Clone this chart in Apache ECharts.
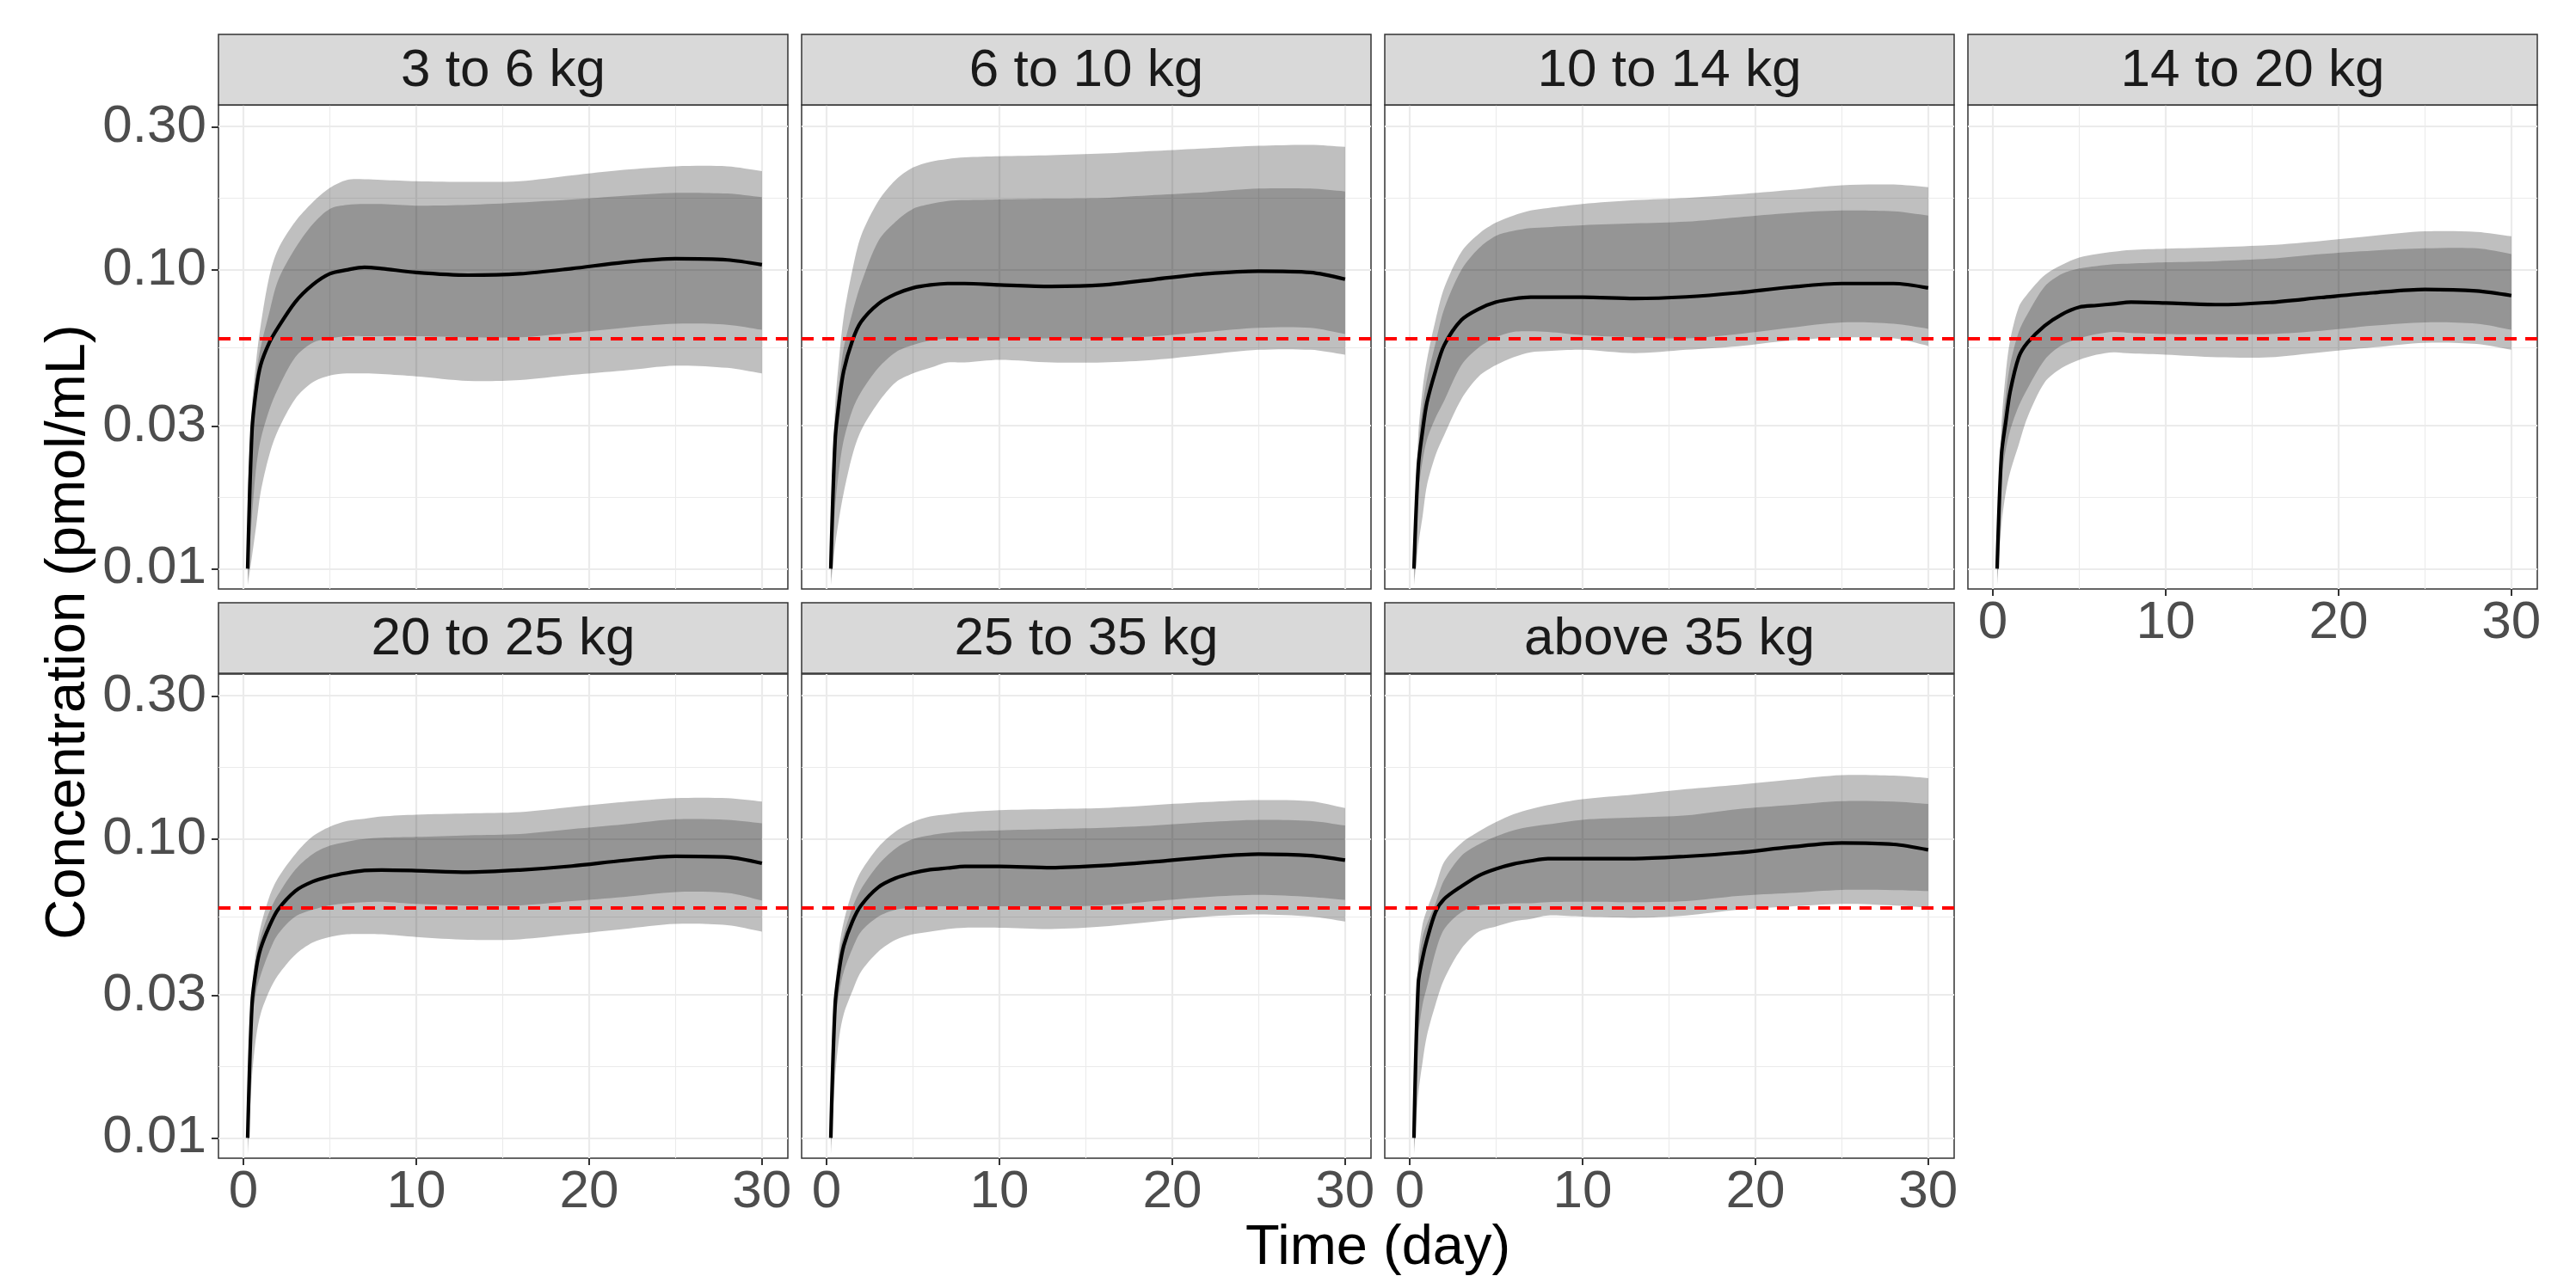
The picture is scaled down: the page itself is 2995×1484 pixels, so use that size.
<!DOCTYPE html>
<html>
<head>
<meta charset="utf-8">
<script src="https://cdn.jsdelivr.net/npm/echarts@6/dist/echarts.min.js"></script>
<style>
html, body { margin: 0; padding: 0; background: #fff; }
#chart { width: 2995px; height: 1484px; }
</style>
</head>
<body>
<div id="chart"></div>
<script>
// facet labels and shared time grid (day)
var panelNames = ['3 to 6 kg', '6 to 10 kg', '10 to 14 kg', '14 to 20 kg', '20 to 25 kg', '25 to 35 kg', 'above 35 kg']
var days = [0.25, 0.5, 0.75, 1, 1.5, 2, 3, 4, 5, 6, 7, 8, 10, 13, 16, 19, 22, 25, 28, 30]

var xTicks = [0, 10, 20, 30]
var xMinor = [5, 15, 25]
var yTicks = [0.01, 0.03, 0.1, 0.3]
var yTickLabels = ['0.01', '0.03', '0.10', '0.30']
var threshold = 0.059

// 3 to 6 kg
var p1_med  = [0.010, 0.029, 0.040, 0.048, 0.057, 0.064, 0.078, 0.089, 0.097, 0.100, 0.102, 0.101, 0.098, 0.096, 0.097, 0.101, 0.106, 0.109, 0.108, 0.104]
var p1_hi90 = [0.018, 0.035, 0.050, 0.065, 0.095, 0.117, 0.145, 0.168, 0.188, 0.200, 0.201, 0.200, 0.198, 0.197, 0.198, 0.207, 0.216, 0.222, 0.222, 0.214]
var p1_hi50 = [0.012, 0.032, 0.045, 0.055, 0.072, 0.092, 0.118, 0.142, 0.160, 0.165, 0.166, 0.166, 0.164, 0.165, 0.168, 0.172, 0.177, 0.181, 0.180, 0.175]
var p1_lo50 = [0.0092, 0.015, 0.022, 0.027, 0.034, 0.040, 0.051, 0.057, 0.059, 0.060, 0.060, 0.060, 0.060, 0.0595, 0.0595, 0.0615, 0.064, 0.066, 0.0655, 0.063]
var p1_lo90 = [0.0088, 0.011, 0.014, 0.018, 0.024, 0.029, 0.037, 0.042, 0.0443, 0.045, 0.045, 0.0448, 0.044, 0.0425, 0.0428, 0.0445, 0.046, 0.0478, 0.047, 0.045]

// 6 to 10 kg
var p2_med  = [0.010, 0.027, 0.037, 0.046, 0.058, 0.067, 0.077, 0.083, 0.087, 0.089, 0.090, 0.090, 0.089, 0.088, 0.089, 0.093, 0.097, 0.099, 0.098, 0.093]
var p2_hi90 = [0.015, 0.035, 0.052, 0.070, 0.100, 0.130, 0.170, 0.200, 0.220, 0.230, 0.235, 0.238, 0.240, 0.242, 0.245, 0.250, 0.255, 0.260, 0.262, 0.258]
var p2_hi50 = [0.012, 0.031, 0.043, 0.055, 0.072, 0.090, 0.125, 0.145, 0.160, 0.166, 0.170, 0.171, 0.172, 0.173, 0.174, 0.178, 0.182, 0.187, 0.187, 0.183]
var p2_lo50 = [0.0092, 0.016, 0.022, 0.027, 0.034, 0.039, 0.047, 0.053, 0.056, 0.058, 0.059, 0.059, 0.059, 0.059, 0.059, 0.060, 0.062, 0.064, 0.064, 0.061]
var p2_lo90 = [0.0088, 0.012, 0.015, 0.018, 0.024, 0.029, 0.036, 0.042, 0.045, 0.047, 0.049, 0.049, 0.050, 0.049, 0.049, 0.050, 0.052, 0.054, 0.054, 0.052]

// 10 to 14 kg
var p3_med  = [0.010, 0.022, 0.029, 0.036, 0.046, 0.056, 0.068, 0.074, 0.078, 0.080, 0.081, 0.081, 0.081, 0.0802, 0.0812, 0.0838, 0.0875, 0.090, 0.090, 0.087]
var p3_hi90 = [0.012, 0.028, 0.040, 0.050, 0.068, 0.087, 0.115, 0.132, 0.144, 0.152, 0.158, 0.161, 0.166, 0.171, 0.174, 0.179, 0.185, 0.192, 0.193, 0.189]
var p3_hi50 = [0.011, 0.025, 0.035, 0.043, 0.057, 0.074, 0.100, 0.118, 0.130, 0.135, 0.138, 0.139, 0.141, 0.143, 0.145, 0.150, 0.155, 0.158, 0.157, 0.152]
var p3_lo50 = [0.0092, 0.018, 0.023, 0.027, 0.032, 0.0365, 0.048, 0.055, 0.0595, 0.062, 0.0623, 0.062, 0.0605, 0.0595, 0.059, 0.061, 0.064, 0.0667, 0.066, 0.0635]
var p3_lo90 = [0.0088, 0.012, 0.015, 0.019, 0.024, 0.028, 0.037, 0.044, 0.048, 0.051, 0.053, 0.0535, 0.054, 0.0526, 0.054, 0.0555, 0.058, 0.0594, 0.059, 0.0557]

// 14 to 20 kg
var p4_med  = [0.010, 0.024, 0.031, 0.039, 0.051, 0.057, 0.065, 0.071, 0.075, 0.076, 0.077, 0.078, 0.0775, 0.0765, 0.0778, 0.0808, 0.0838, 0.086, 0.085, 0.082]
var p4_hi90 = [0.012, 0.030, 0.045, 0.058, 0.075, 0.083, 0.096, 0.104, 0.110, 0.113, 0.115, 0.1165, 0.1176, 0.119, 0.121, 0.125, 0.130, 0.1345, 0.134, 0.1295]
var p4_hi50 = [0.011, 0.027, 0.038, 0.048, 0.062, 0.071, 0.088, 0.097, 0.101, 0.103, 0.1045, 0.105, 0.106, 0.107, 0.109, 0.113, 0.116, 0.118, 0.118, 0.113]
var p4_lo50 = [0.0092, 0.020, 0.025, 0.029, 0.035, 0.040, 0.050, 0.056, 0.059, 0.061, 0.062, 0.0615, 0.061, 0.0609, 0.061, 0.0625, 0.065, 0.0667, 0.066, 0.063]
var p4_lo90 = [0.0088, 0.014, 0.018, 0.021, 0.026, 0.032, 0.042, 0.047, 0.050, 0.052, 0.053, 0.0525, 0.052, 0.051, 0.051, 0.053, 0.055, 0.057, 0.0565, 0.054]

// 20 to 25 kg
var p5_med  = [0.010, 0.028, 0.037, 0.043, 0.051, 0.058, 0.067, 0.072, 0.075, 0.077, 0.0785, 0.0788, 0.0784, 0.0775, 0.0788, 0.0812, 0.0848, 0.0876, 0.087, 0.083]
var p5_hi90 = [0.012, 0.031, 0.043, 0.051, 0.064, 0.074, 0.089, 0.102, 0.110, 0.115, 0.117, 0.119, 0.1206, 0.1218, 0.123, 0.128, 0.133, 0.137, 0.137, 0.1335]
var p5_hi50 = [0.011, 0.029, 0.040, 0.047, 0.057, 0.065, 0.079, 0.089, 0.095, 0.098, 0.100, 0.101, 0.1017, 0.103, 0.104, 0.108, 0.112, 0.1165, 0.116, 0.113]
var p5_lo50 = [0.0092, 0.024, 0.031, 0.035, 0.042, 0.048, 0.055, 0.058, 0.060, 0.061, 0.0615, 0.0617, 0.0607, 0.060, 0.060, 0.062, 0.064, 0.0665, 0.066, 0.0623]
var p5_lo90 = [0.0088, 0.016, 0.022, 0.026, 0.031, 0.035, 0.041, 0.045, 0.047, 0.048, 0.0481, 0.048, 0.047, 0.046, 0.0462, 0.048, 0.050, 0.052, 0.0515, 0.049]

// 25 to 35 kg
var p6_med  = [0.010, 0.028, 0.037, 0.044, 0.053, 0.060, 0.069, 0.074, 0.077, 0.079, 0.080, 0.081, 0.081, 0.0802, 0.0815, 0.084, 0.087, 0.089, 0.088, 0.085]
var p6_hi90 = [0.012, 0.031, 0.044, 0.053, 0.067, 0.078, 0.094, 0.106, 0.114, 0.119, 0.121, 0.123, 0.125, 0.126, 0.127, 0.130, 0.133, 0.135, 0.134, 0.127]
var p6_hi50 = [0.011, 0.029, 0.041, 0.048, 0.059, 0.068, 0.082, 0.093, 0.100, 0.103, 0.105, 0.106, 0.107, 0.108, 0.109, 0.111, 0.114, 0.116, 0.115, 0.111]
var p6_lo50 = [0.0092, 0.024, 0.031, 0.036, 0.043, 0.049, 0.055, 0.058, 0.059, 0.0595, 0.0596, 0.0596, 0.0596, 0.0596, 0.060, 0.062, 0.064, 0.065, 0.064, 0.0626]
var p6_lo90 = [0.0088, 0.016, 0.022, 0.026, 0.031, 0.036, 0.042, 0.046, 0.048, 0.049, 0.050, 0.0505, 0.0505, 0.050, 0.051, 0.053, 0.055, 0.0559, 0.055, 0.053]

// above 35 kg
var p7_med  = [0.010, 0.033, 0.040, 0.046, 0.057, 0.063, 0.0695, 0.0755, 0.0795, 0.0825, 0.0845, 0.086, 0.086, 0.086, 0.0875, 0.090, 0.094, 0.097, 0.096, 0.092]
var p7_hi90 = [0.012, 0.040, 0.052, 0.058, 0.0695, 0.084, 0.097, 0.106, 0.114, 0.121, 0.126, 0.130, 0.136, 0.141, 0.147, 0.152, 0.158, 0.1637, 0.163, 0.160]
var p7_hi50 = [0.011, 0.037, 0.047, 0.052, 0.061, 0.073, 0.088, 0.096, 0.102, 0.107, 0.110, 0.112, 0.116, 0.118, 0.120, 0.126, 0.130, 0.134, 0.1335, 0.131]
var p7_lo50 = [0.0092, 0.022, 0.028, 0.032, 0.042, 0.050, 0.057, 0.060, 0.0605, 0.061, 0.061, 0.0615, 0.0617, 0.0615, 0.062, 0.0645, 0.066, 0.0676, 0.0675, 0.067]
var p7_lo90 = [0.0088, 0.014, 0.018, 0.022, 0.028, 0.034, 0.043, 0.049, 0.051, 0.053, 0.054, 0.0555, 0.055, 0.0545, 0.0555, 0.058, 0.0595, 0.0607, 0.060, 0.059]

var panels = [
	[p1_med, p1_lo90, p1_hi90, p1_lo50, p1_hi50],
	[p2_med, p2_lo90, p2_hi90, p2_lo50, p2_hi50],
	[p3_med, p3_lo90, p3_hi90, p3_lo50, p3_hi50],
	[p4_med, p4_lo90, p4_hi90, p4_lo50, p4_hi50],
	[p5_med, p5_lo90, p5_hi90, p5_lo50, p5_hi50],
	[p6_med, p6_lo90, p6_hi90, p6_lo50, p6_hi50],
	[p7_med, p7_lo90, p7_hi90, p7_lo50, p7_hi50]
]

// layout (px)
var FONT = '"Liberation Sans", Arial, Helvetica, sans-serif'
var colLeft = [254, 932, 1610, 2288]
var stripTop = [40, 701]
var plotTop = [122, 784]
var panelW = 662, plotH = 563, stripH = 82
var smoothness = 0.3

// y axis is drawn in log10 space
var lg = function (v) { return Math.log(v) / Math.LN10 }
var yMin = -2.068, yMax = -0.448

// ribbon between two quantile curves, one polygon per ribbon, through the grid's own coords
function ribbonItem(color) {
	return function (params, api) {
		if (params.dataIndexInside !== 0) return null
		var n = days.length, top = [], bot = []
		for (var k = 0; k < n; k++) {
			top.push(api.coord([api.value(0, k), api.value(2, k)]))
			bot.push(api.coord([api.value(0, k), api.value(1, k)]))
		}
		// repeat the end vertices so the smoothing keeps square ends
		var pts = [top[0]].concat(top, [top[n - 1], bot[n - 1]], bot.slice().reverse(), [bot[0]])
		return {
			type: 'polygon',
			shape: { points: pts, smooth: smoothness },
			style: { fill: color, stroke: null }
		}
	}
}

var grids = [], xAxes = [], yAxes = [], series = [], graphics = []

panels.forEach(function (p, i) {
	var row = i < 4 ? 0 : 1
	var col = i < 4 ? i : i - 4
	var showX = (i >= 3)
	var showY = (col === 0)
	var left = colLeft[col]

	grids.push({
		left: left, top: plotTop[row], width: panelW, height: plotH,
		show: true, backgroundColor: '#fff', borderColor: '#333333', borderWidth: 1.5,
		containLabel: false, outerBoundsMode: 'none'
	})
	xAxes.push({
		gridIndex: i, type: 'value', min: -1.44, max: 31.5,
		axisLine: { show: false, onZero: false }, splitLine: { show: false },
		axisTick: { show: showX, customValues: xTicks, length: 8, lineStyle: { color: '#333333', width: 2 } },
		axisLabel: { show: showX, customValues: xTicks, fontSize: 62, color: '#4D4D4D', margin: 9, fontFamily: FONT }
	})
	yAxes.push({
		gridIndex: i, type: 'value', min: yMin, max: yMax,
		axisLine: { show: false, onZero: false }, splitLine: { show: false },
		axisTick: { show: showY, customValues: yTicks.map(lg), length: 8, lineStyle: { color: '#333333', width: 2 } },
		axisLabel: {
			show: showY, customValues: yTicks.map(lg), fontSize: 62, color: '#4D4D4D', margin: 14, fontFamily: FONT,
			formatter: function (v) {
				var k = 0, best = 1e9
				yTicks.forEach(function (t, j) { var d = Math.abs(lg(t) - v); if (d < best) { best = d; k = j } })
				return yTickLabels[k]
			}
		}
	})

	// background grid lines
	var gl = []
	xTicks.forEach(function (t) { gl.push({ xAxis: t, lineStyle: { color: '#EBEBEB', width: 2.2, type: 'solid' } }) })
	xMinor.forEach(function (t) { gl.push({ xAxis: t, lineStyle: { color: '#EBEBEB', width: 1.1, type: 'solid' } }) })
	yTicks.forEach(function (t) { gl.push({ yAxis: lg(t), lineStyle: { color: '#EBEBEB', width: 2.2, type: 'solid' } }) })
	for (var j = 0; j < yTicks.length - 1; j++) {
		gl.push({ yAxis: (lg(yTicks[j]) + lg(yTicks[j + 1])) / 2, lineStyle: { color: '#EBEBEB', width: 1.1, type: 'solid' } })
	}
	series.push({
		type: 'line', xAxisIndex: i, yAxisIndex: i, data: [], silent: true, z: 1,
		markLine: { silent: true, z: 1, symbol: ['none', 'none'], label: { show: false }, emphasis: { disabled: true }, data: gl }
	})

	var med = p[0], lo90 = p[1], hi90 = p[2], lo50 = p[3], hi50 = p[4]
	series.push({
		type: 'custom', xAxisIndex: i, yAxisIndex: i, silent: true, z: 2, clip: true,
		encode: { x: 0, y: [1, 2] },
		data: days.map(function (d, k) { return [d, lg(lo90[k]), lg(hi90[k])] }),
		renderItem: ribbonItem('rgba(0,0,0,0.25)')
	})
	series.push({
		type: 'custom', xAxisIndex: i, yAxisIndex: i, silent: true, z: 2, clip: true,
		encode: { x: 0, y: [1, 2] },
		data: days.map(function (d, k) { return [d, lg(lo50[k]), lg(hi50[k])] }),
		renderItem: ribbonItem('rgba(0,0,0,0.22)')
	})

	series.push({
		type: 'line', xAxisIndex: i, yAxisIndex: i,
		data: days.map(function (d, k) { return [d, lg(med[k])] }),
		symbol: 'none', smooth: smoothness, silent: true, z: 3,
		lineStyle: { color: '#000000', width: 4.2 },
		markLine: {
			silent: true, z: 4, symbol: ['none', 'none'], label: { show: false }, emphasis: { disabled: true },
			data: [{ yAxis: lg(threshold) }],
			lineStyle: { color: '#FF0000', width: 4, type: [14, 10] }
		}
	})

	// facet strip
	graphics.push({
		type: 'rect', z: 10,
		shape: { x: left, y: stripTop[row], width: panelW, height: stripH },
		style: { fill: '#D9D9D9', stroke: '#333333', lineWidth: 1.5 }
	})
	graphics.push({
		type: 'text', z: 11, x: left + panelW / 2, y: stripTop[row] + stripH / 2 + 2,
		style: { text: panelNames[i], fill: '#1A1A1A', font: '62px ' + FONT, textAlign: 'center', textVerticalAlign: 'middle' }
	})
})

// axis titles
graphics.push({
	type: 'text', z: 11, x: 1602, y: 1452,
	style: { text: 'Time (day)', fill: '#000000', font: '65px ' + FONT, textAlign: 'center', textVerticalAlign: 'middle' }
})
graphics.push({
	type: 'text', z: 11, x: 80, y: 735, rotation: Math.PI / 2,
	style: { text: 'Concentration (pmol/mL)', fill: '#000000', font: '65px ' + FONT, textAlign: 'center', textVerticalAlign: 'middle' }
})

var myChart = echarts.init(document.getElementById('chart'))
myChart.setOption({
	animation: false,
	backgroundColor: '#ffffff',
	grid: grids,
	xAxis: xAxes,
	yAxis: yAxes,
	series: series,
	graphic: graphics
})
</script>
</body>
</html>
